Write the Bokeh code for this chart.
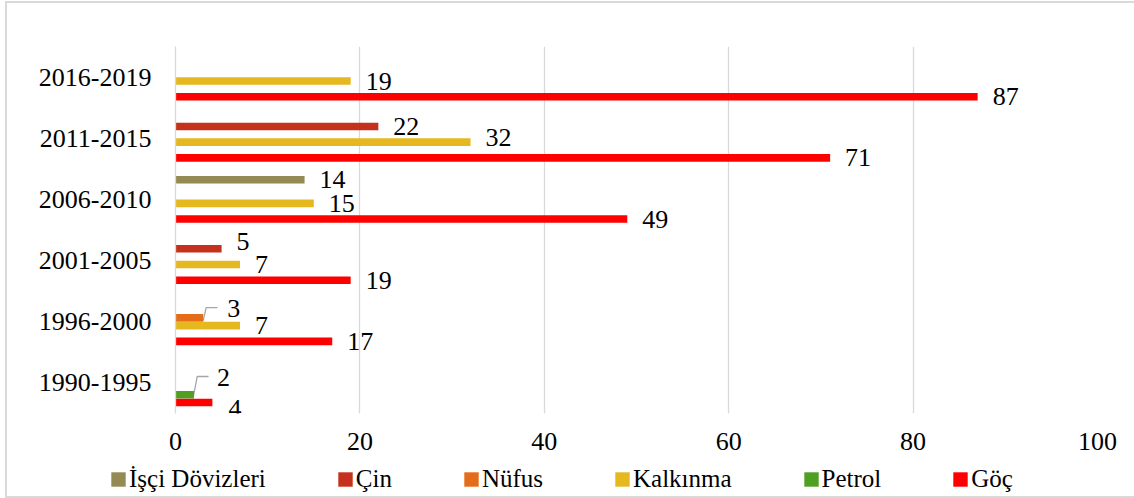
from bokeh.plotting import figure
from bokeh.layouts import column
from bokeh.models import Range1d, FixedTicker, Legend, LegendItem, ColumnDataSource
from bokeh.embed import file_html
from bokeh.resources import INLINE
from bokeh.core.properties import value

# ---- data ----
periods = ["1990-1995", "1996-2000", "2001-2005", "2006-2010", "2011-2015", "2016-2019"]
series_names = ["İşçi Dövizleri", "Çin", "Nüfus", "Kalkınma", "Petrol", "Göç"]
isci = [0, 0, 0, 14, 0, 0]
cin = [0, 0, 5, 0, 22, 0]
nufus = [0, 3, 0, 0, 0, 0]
kalkinma = [0, 7, 7, 15, 32, 19]
petrol = [2, 0, 0, 0, 0, 0]
goc = [4, 17, 19, 49, 71, 87]
x_ticks = [0, 20, 40, 60, 80, 100]

series_values = [isci, cin, nufus, kalkinma, petrol, goc]
colors = ["#948A54", "#C4311C", "#E46C1A", "#E6B820", "#4E9F22", "#FF0000"]

FONT = "Liberation Serif"
FS = "26px"
GRID = "#d9d9d9"

W, H = 1127, 460
BL, BR, BT, BB = 168, 37, 43, 50
frame_w = W - BL - BR
frame_h = H - BT - BB
px_per_x = frame_w / 100.0
px_per_y = frame_h / float(len(periods))

slot = 7.85 / 61.2
bar_h = slot * 0.97

p = figure(width=W, height=H, output_backend="svg", toolbar_location=None,
           x_range=Range1d(0, 100), y_range=Range1d(0, len(periods)),
           min_border_left=BL, min_border_right=BR, min_border_top=BT, min_border_bottom=BB,
           background_fill_color="white", border_fill_color="white")
p.outline_line_color = None

# label tweaks (screen px): (series index, period index) -> (dx, dy)
label_tweak = {(2, 1): (24, -9), (4, 0): (23, -17), (5, 0): (16, 6),
               (1, 2): (15, -7), (3, 4): (15, -5)}
leaders = {(2, 1): [(0, 3), (3, -10.3), (14.3, -10.3)],
           (4, 0): [(-0.7, 2.5), (3.3, -18.2), (14.6, -18.2)]}

for i, (name, vals, col) in enumerate(zip(series_names, series_values, colors)):
    ys, xs, labels, xo, yo = [], [], [], [], []
    for k, v in enumerate(vals):
        if v == 0:
            continue
        yc = k + 0.5 + (2.5 - i) * slot
        ys.append(yc)
        xs.append(v)
        labels.append(str(v))
        dx, dy = label_tweak.get((i, k), (15, 0))
        xo.append(dx)
        yo.append(dy)
        if (i, k) in leaders:
            lx = [v + a / px_per_x for a, b in leaders[(i, k)]]
            ly = [yc - b / px_per_y for a, b in leaders[(i, k)]]
            p.line(lx, ly, line_color="#a6a6a6", line_width=1.3)
    src = ColumnDataSource(dict(y=ys, right=xs, lab=labels, xo=xo, yo=yo))
    p.hbar(y="y", right="right", left=0, height=bar_h, source=src,
           fill_color=col, line_color=None)
    p.text(x="right", y="y", text="lab", source=src, x_offset="xo", y_offset="yo",
           text_font=value(FONT), text_font_size=FS, text_color="black",
           text_align="left", text_baseline="middle")

# axes
p.xaxis.ticker = FixedTicker(ticks=x_ticks)
p.xaxis.axis_line_color = None
p.xaxis.major_tick_line_color = None
p.xaxis.minor_tick_line_color = None
p.xaxis.major_tick_out = 0
p.xaxis.major_label_standoff = 19
p.xaxis.major_label_text_font = FONT
p.xaxis.major_label_text_font_size = FS
p.xaxis.major_label_text_color = "black"

p.yaxis.ticker = FixedTicker(ticks=[k + 0.5 for k in range(len(periods))])
p.yaxis.major_label_overrides = {k + 0.5: lab for k, lab in enumerate(periods)}
p.yaxis.axis_line_color = GRID
p.yaxis.axis_line_width = 1.3
p.yaxis.major_tick_line_color = None
p.yaxis.minor_tick_line_color = None
p.yaxis.major_tick_out = 0
p.yaxis.major_label_standoff = 24
p.yaxis.major_label_text_font = FONT
p.yaxis.major_label_text_font_size = FS
p.yaxis.major_label_text_color = "black"

p.xgrid.grid_line_color = GRID
p.xgrid.grid_line_width = 1.3
p.xgrid.ticker = FixedTicker(ticks=x_ticks)
p.ygrid.grid_line_color = None

# ---- legend strip ----
p2 = figure(width=W, height=33, output_backend="svg", toolbar_location=None,
            x_range=Range1d(0, 1), y_range=Range1d(0, 1),
            x_axis_location=None, y_axis_location=None,
            min_border_left=0, min_border_right=0, min_border_top=0, min_border_bottom=0,
            background_fill_alpha=0, border_fill_alpha=0)
p2.styles = {"margin-left": "-66px"}
p2.outline_line_color = None
p2.xgrid.grid_line_color = None
p2.ygrid.grid_line_color = None
items = []
for name, col in zip(series_names, colors):
    r = p2.hbar(y=[-10], right=[1], left=0, height=0.5, fill_color=col, line_color=None)
    items.append(LegendItem(label=name, renderers=[r]))
legend = Legend(items=items, orientation="horizontal", location=(0, 3),
                glyph_width=18, glyph_height=18, label_standoff=2, spacing=70,
                label_text_font=FONT, label_text_font_size="25px", label_text_color="black",
                border_line_color=None, background_fill_alpha=0,
                padding=0, margin=0)
p2.add_layout(legend)

layout = column(p, p2, spacing=0,
                styles={"margin-left": "5px", "margin-top": "1px",
                        "border-left": "2px solid #d9d9d9",
                        "border-top": "2px solid #d9d9d9",
                        "border-bottom": "2px solid #d9d9d9"})

open("out.html", "w").write(file_html(layout, INLINE))
